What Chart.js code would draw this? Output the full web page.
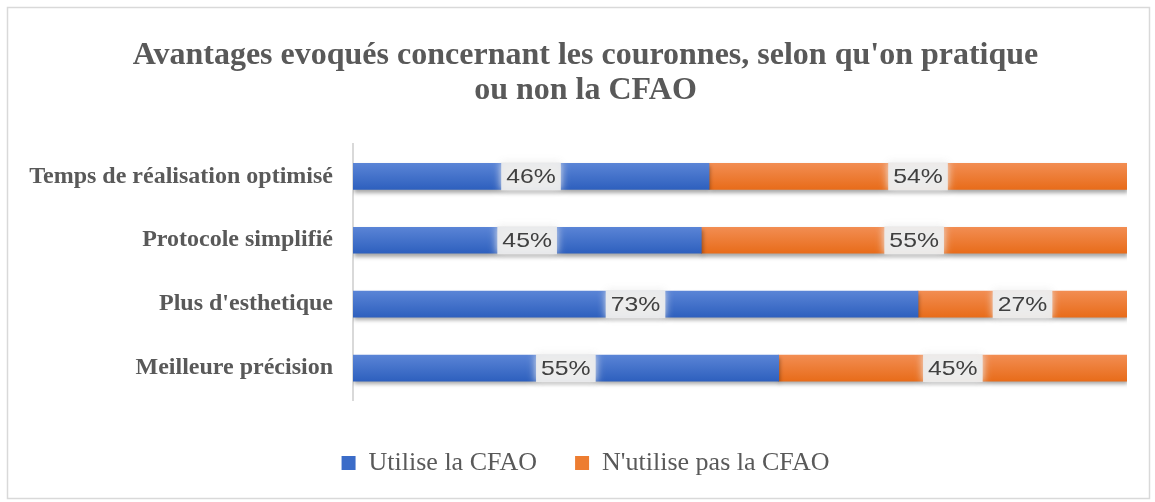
<!DOCTYPE html>
<html>
<head>
<meta charset="utf-8">
<script src="https://cdn.jsdelivr.net/npm/chart.js@4"></script>
<style>
  html, body { margin: 0; padding: 0; background: #fff; }
  #wrap { position: relative; width: 1155px; height: 502px; }
</style>
</head>
<body>
<div id="wrap"><canvas id="avantagesChart"></canvas></div>
<script>
const categories = ['Temps de réalisation optimisé', 'Protocole simplifié', "Plus d'esthetique", 'Meilleure précision'];
const seriesNames = ['Utilise la CFAO', "N'utilise pas la CFAO"];
const utilise = [46, 45, 73, 55];
const nUtilisePas = [54, 55, 27, 45];

const BAR_H = 26;
const SERIF = '"Liberation Serif", "Times New Roman", serif';

function barGradient(top, bottom) {
    return function(context) {
        const chart = context.chart;
        const yScale = chart.scales.y;
        if (!chart.chartArea || !yScale || context.dataIndex === undefined) {
            return bottom;
        }
        const yc = yScale.getPixelForValue(context.dataIndex);
        const g = chart.ctx.createLinearGradient(0, yc - BAR_H / 2, 0, yc + BAR_H / 2);
        g.addColorStop(0, top);
        g.addColorStop(1, bottom);
        return g;
    };
}

// frame around the whole chart, and title/legend nudged to the right
const framePlugin = {
    id: 'frame',
    afterLayout(chart) {
        if (chart.titleBlock) chart.titleBlock.left += 44;
        if (chart.legend) chart.legend.left += 44;
    },
    beforeDraw(chart) {
        const ctx = chart.ctx;
        ctx.save();
        ctx.strokeStyle = '#d9d9d9';
        ctx.lineWidth = 1.5;
        ctx.strokeRect(7.5, 7.5, chart.width - 13, chart.height - 11);
        ctx.restore();
    }
};

// soft drop shadow under the bars
const barShadow = {
    id: 'barShadow',
    beforeDatasetsDraw(chart) {
        const ctx = chart.ctx;
        ctx.save();
        ctx.shadowColor = 'rgba(0,0,0,0.35)';
        ctx.shadowBlur = 4;
        ctx.shadowOffsetY = 3;
        ctx.shadowOffsetX = 1;
    },
    afterDatasetsDraw(chart) {
        chart.ctx.restore();
    }
};

// percent labels centred in each segment, on a pale blurred patch
const valueLabels = {
    id: 'valueLabels',
    afterDatasetsDraw(chart) {
        const ctx = chart.ctx;
        const sx = 1.18;
        ctx.save();
        ctx.font = '21px "Liberation Sans", Arial, sans-serif';
        ctx.textAlign = 'center';
        ctx.textBaseline = 'middle';
        chart.data.datasets.forEach((ds, i) => {
            chart.getDatasetMeta(i).data.forEach((bar, j) => {
                const cx = (bar.base + bar.x) / 2;
                const cy = bar.y;
                const txt = ds.data[j] + '%';
                const w = ctx.measureText(txt).width * sx + 10;
                ctx.save();
                ctx.shadowColor = 'rgba(236,236,236,1)';
                ctx.shadowBlur = 8;
                ctx.fillStyle = 'rgba(236,236,236,0.95)';
                ctx.fillRect(cx - w / 2, cy - BAR_H / 2 - 1, w, BAR_H + 2);
                ctx.restore();
                ctx.save();
                ctx.translate(cx, cy + 1);
                ctx.scale(sx, 1);
                ctx.fillStyle = '#404040';
                ctx.fillText(txt, 0, 0);
                ctx.restore();
            });
        });
        ctx.restore();
    }
};

const ctx = document.getElementById('avantagesChart').getContext('2d');
new Chart(ctx, {
    type: 'bar',
    data: {
        labels: categories,
        datasets: [
            {
                label: seriesNames[0],
                data: utilise,
                backgroundColor: barGradient('#5a84d6', '#2e60be'),
                legendColor: '#3b6cc8',
                barThickness: BAR_H
            },
            {
                label: seriesNames[1],
                data: nUtilisePas,
                backgroundColor: barGradient('#f28d52', '#e86c1a'),
                legendColor: '#ed7d31',
                barThickness: BAR_H
            }
        ]
    },
    options: {
        indexAxis: 'y',
        responsive: true,
        maintainAspectRatio: false,
        animation: false,
        layout: {
            padding: { left: 0, right: 28, top: 0, bottom: 16 }
        },
        scales: {
            x: {
                stacked: true,
                min: 0,
                max: 100,
                display: true,
                grid: { display: false, drawTicks: false },
                border: { display: false },
                ticks: { display: false },
                afterFit(scale) {
                    scale.height = 12;
                }
            },
            y: {
                stacked: true,
                grid: { display: false, drawTicks: false },
                border: { display: true, color: '#d9d9d9', width: 2 },
                ticks: {
                    padding: 20,
                    color: '#595959',
                    font: { family: SERIF, size: 24, weight: 'bold' }
                },
                afterFit(scale) {
                    scale.width = 353;
                }
            }
        },
        plugins: {
            title: {
                display: true,
                text: ["Avantages evoqués concernant les couronnes, selon qu'on pratique", 'ou non la CFAO'],
                color: '#595959',
                font: { family: SERIF, size: 32, weight: 'bold', lineHeight: 1.1 },
                padding: { top: 38, bottom: 36 }
            },
            legend: {
                position: 'bottom',
                labels: {
                    color: '#595959',
                    boxWidth: 14,
                    boxHeight: 14,
                    padding: 38,
                    font: { family: SERIF, size: 26 },
                    generateLabels(chart) {
                        return chart.data.datasets.map((ds, i) => ({
                            text: ds.label,
                            fillStyle: ds.legendColor,
                            strokeStyle: ds.legendColor,
                            lineWidth: 0,
                            fontColor: '#595959',
                            datasetIndex: i,
                            hidden: false
                        }));
                    }
                }
            },
            tooltip: { enabled: false }
        }
    },
    plugins: [framePlugin, barShadow, valueLabels]
});
</script>
</body>
</html>
